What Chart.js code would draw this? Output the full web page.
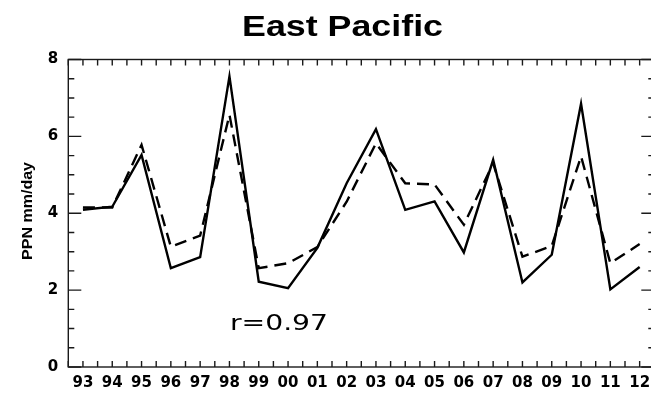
<!DOCTYPE html>
<html>
<head>
<meta charset="utf-8">
<script src="https://cdn.jsdelivr.net/npm/chart.js@4/dist/chart.umd.min.js"></script>
<style>
  html, body { margin: 0; padding: 0; background: #fff; overflow: hidden; width: 651px; height: 396px; }
  canvas { position: absolute; left: 0; top: 0; }
</style>
</head>
<body>
<canvas id="chart" width="660" height="396"></canvas>
<script>
// Year labels along the bottom axis
const years = ['93','94','95','96','97','98','99','00','01','02','03','04','05','06','07','08','09','10','11','12'];
// Precipitation, mm/day (solid line)
const solidSeries = [4.09, 4.17, 5.52, 2.57, 2.86, 7.56, 2.22, 2.05, 3.10, 4.78, 6.19, 4.09, 4.31, 2.98, 5.39, 2.20, 2.92, 6.85, 2.02, 2.60];
// Precipitation, mm/day (dashed line)
const dashedSeries = [4.15, 4.15, 5.78, 3.13, 3.42, 6.56, 2.57, 2.70, 3.12, 4.30, 5.82, 4.78, 4.75, 3.70, 5.30, 2.87, 3.15, 5.48, 2.70, 3.20];
// Y axis range and labelled ticks
const yMin = 0, yMax = 8, yStep = 2;
const titleText = 'East Pacific';
const yTitleText = 'PPN mm/day';
const noteText = 'r=0.97';

const toPoints = arr => arr.map((v, i) => ({ x: i, y: v }));

// Box frame with inward tick marks on all four sides
const framePlugin = {
  id: 'frame',
  afterDatasetsDraw(chart) {
    const { ctx, chartArea: a, scales: { x, y } } = chart;
    ctx.save();
    ctx.strokeStyle = '#1a1a1a';
    ctx.lineWidth = 1.4;
    ctx.strokeRect(a.left, a.top, a.right - a.left, a.bottom - a.top);
    ctx.beginPath();
    for (let v = -0.5; v <= years.length - 0.5 + 1e-9; v += 0.5) {
      const px = x.getPixelForValue(v);
      ctx.moveTo(px, a.bottom); ctx.lineTo(px, a.bottom - 6);
      ctx.moveTo(px, a.top); ctx.lineTo(px, a.top + 6);
    }
    for (let v = yMin; v <= yMax + 1e-9; v += 0.5) {
      const py = y.getPixelForValue(v);
      const len = (Math.abs(v % yStep) < 1e-9) ? 13 : 6;
      ctx.moveTo(a.left, py); ctx.lineTo(a.left + len, py);
      ctx.moveTo(a.right, py); ctx.lineTo(a.right - len, py);
    }
    ctx.stroke();
    ctx.restore();
  }
};

// Title, rotated y-axis title and the correlation note
function drawStretched(ctx, text, font, cx, cy, width, align) {
  ctx.save();
  ctx.font = font;
  const w = ctx.measureText(text).width;
  ctx.translate(cx, cy);
  ctx.scale(width / w, 1);
  ctx.textAlign = align;
  ctx.textBaseline = 'alphabetic';
  ctx.fillText(text, 0, 0);
  ctx.restore();
}
const textPlugin = {
  id: 'texts',
  afterDraw(chart) {
    const { ctx } = chart;
    ctx.fillStyle = '#000';
    drawStretched(ctx, titleText, 'bold 29px "Liberation Sans", Arial, sans-serif', 342.5, 36, 201, 'center');
    drawStretched(ctx, noteText, '21px "DejaVu Sans", sans-serif', 230, 330, 98, 'left');
    ctx.save();
    ctx.translate(32, 211);
    ctx.rotate(-Math.PI / 2);
    drawStretched(ctx, yTitleText, 'bold 14.5px "Liberation Sans", Arial, sans-serif', 0, 0, 98, 'center');
    ctx.restore();
  }
};

const tickFont = { family: '"DejaVu Sans", sans-serif', size: 15, weight: 'bold' };

new Chart(document.getElementById('chart'), {
  type: 'line',
  data: {
    datasets: [
      { data: toPoints(solidSeries), borderColor: '#000', borderWidth: 2.4, pointRadius: 0, tension: 0, fill: false },
      { data: toPoints(dashedSeries), borderColor: '#000', borderWidth: 2.4, borderDash: [12, 7], pointRadius: 0, tension: 0, fill: false }
    ]
  },
  options: {
    responsive: false,
    animation: false,
    events: [],
    layout: { padding: { top: 59.5, right: 5.7, left: 0, bottom: 0 } },
    plugins: { legend: { display: false }, title: { display: false }, tooltip: { enabled: false } },
    scales: {
      x: {
        type: 'linear',
        min: -0.5,
        max: years.length - 0.5,
        afterBuildTicks: s => { s.ticks = years.map((_, i) => ({ value: i })); },
        afterFit: s => { s.height = 29; },
        grid: { display: false, drawTicks: false },
        border: { display: false },
        ticks: {
          autoSkip: false, maxRotation: 0, padding: 7, color: '#000',
          font: tickFont,
          callback: v => years[v] ?? ''
        }
      },
      y: {
        min: yMin,
        max: yMax,
        afterFit: s => { s.width = 68.3; },
        grid: { display: false, drawTicks: false },
        border: { display: false },
        ticks: {
          stepSize: yStep, padding: 10, color: '#000',
          font: tickFont
        }
      }
    }
  },
  plugins: [framePlugin, textPlugin]
});
</script>
</body>
</html>
